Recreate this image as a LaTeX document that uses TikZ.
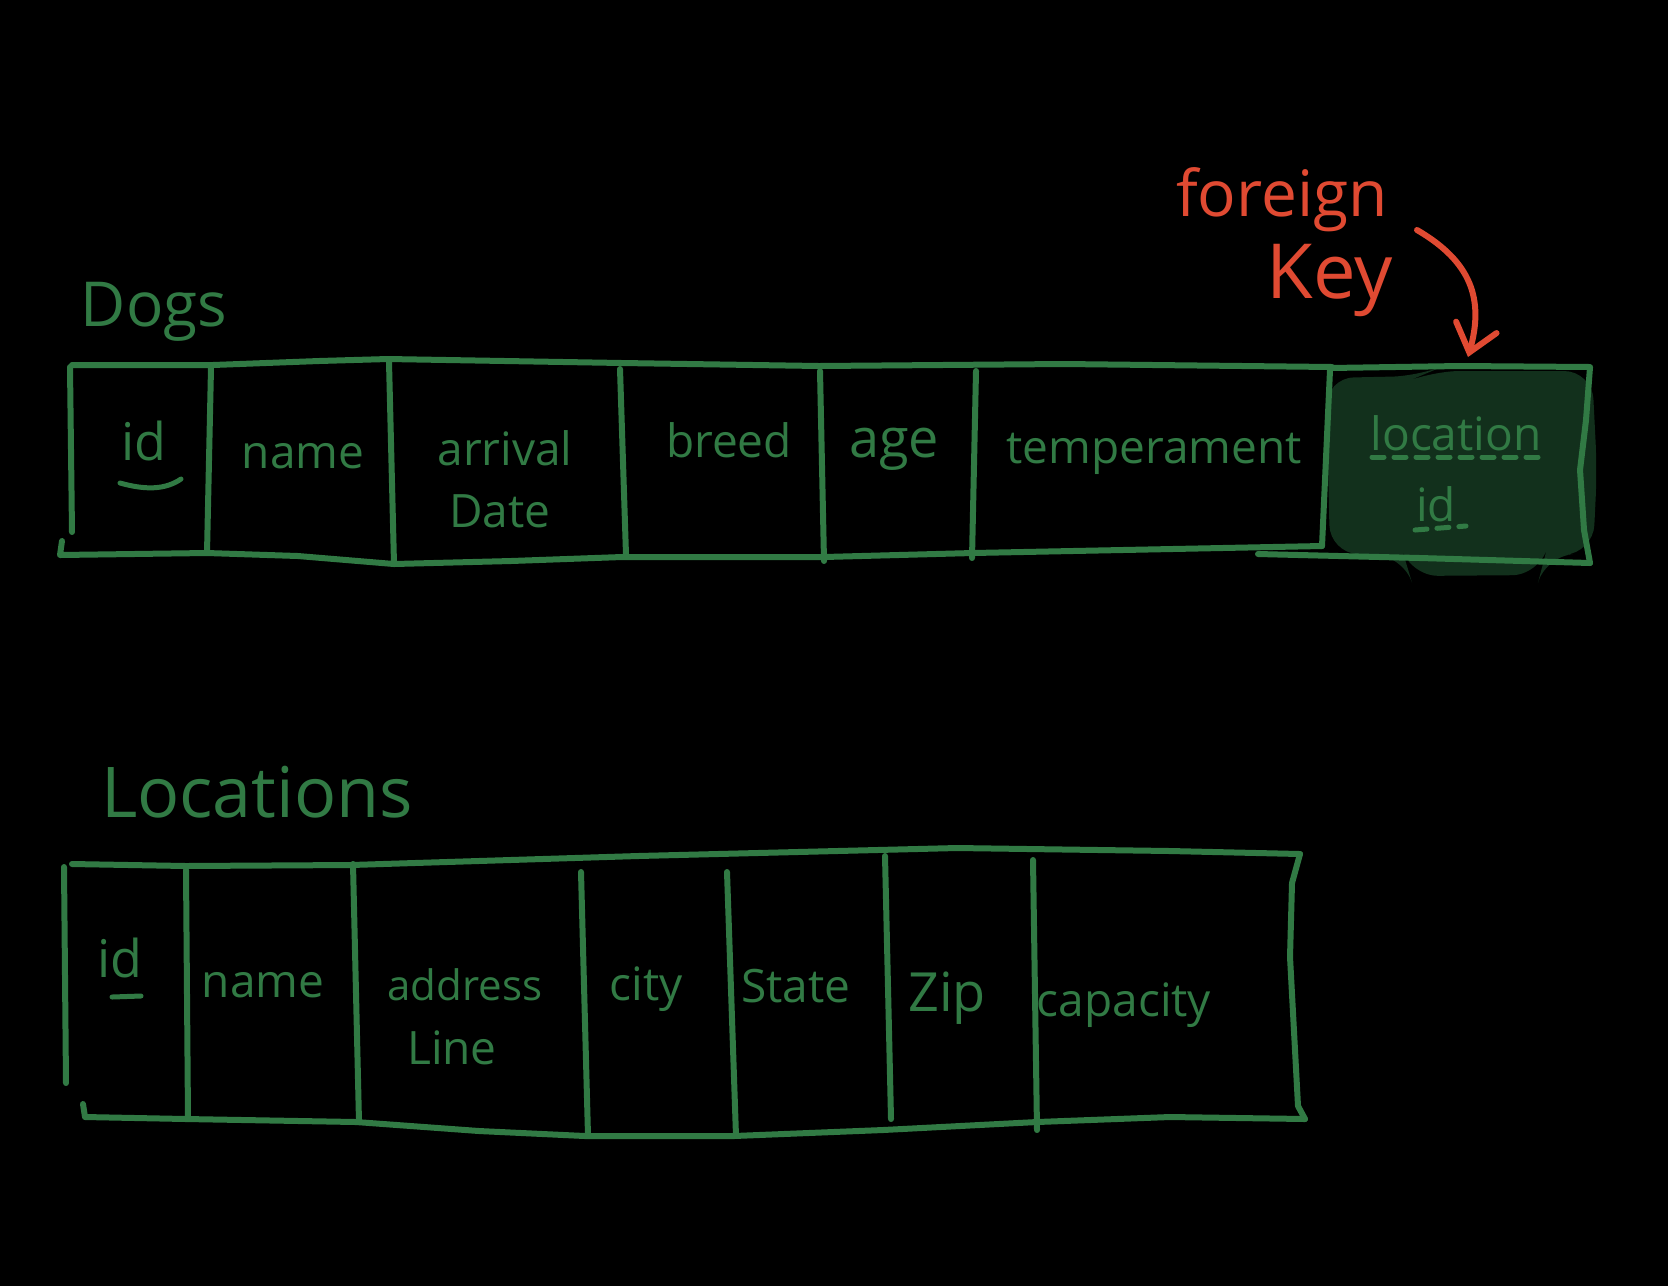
\documentclass[tikz,border=0pt]{standalone}
\usepackage{fontspec}
\setmainfont{Open Sans}
\usetikzlibrary{arrows.meta}
\definecolor{ink}{HTML}{317A44}
\definecolor{redink}{HTML}{E04A32}
\definecolor{cellfill}{HTML}{12301C}
\begin{document}
\begin{tikzpicture}[x=0.5pt,y=-0.5pt,
  edge/.style={draw=ink, line width=3pt, line cap=round, line join=round},
  lbl/.style={text=ink, font=\fontsize{23}{26}\selectfont, anchor=base, inner sep=0pt},
  title/.style={text=ink, font=\fontsize{31}{34}\selectfont, anchor=base, inner sep=0pt},
  note/.style={text=redink, font=\fontsize{32}{36}\selectfont, anchor=base, inner sep=0pt},
  keyline/.style={draw=ink, line width=2.5pt, line cap=round, dash pattern=on 6pt off 5pt},
  pointer/.style={draw=redink, line width=3pt, line cap=round, line join=round,
    -{Straight Barb[length=13pt, width=21pt, line cap=round]}}]
\fill[black] (0,0) rectangle (1668,1286);
\useasboundingbox (0,0) rectangle (1668,1286);

% highlighted foreign-key cell
\fill[cellfill, rounded corners=14pt] (1326,378) -- (1420,376) -- (1432,371) -- (1592,371)
  -- (1597,470) -- (1593,553) -- (1545,556) -- (1540,575) -- (1410,576) -- (1404,556)
  -- (1330,553) -- cycle;

% ---- Dogs table ----
\draw[edge] (72,365) -- (213,365) -- (319,361) -- (388,359) -- (622,363) -- (819,366)
  -- (1064,364) -- (1332,367);
\draw[edge] (70,367) -- (72,532);
\draw[edge] (62,541) -- (60,555) -- (207,553) -- (298,556) -- (394,564) -- (511,561)
  -- (622,557) -- (824,557) -- (973,553) -- (1322,546);
\draw[edge] (211,368) -- (207,553);
\draw[edge] (389,362) -- (394,564);
\draw[edge] (620,369) -- (626,555);
\draw[edge] (820,371) -- (824,561);
\draw[edge] (976,371) -- (972,558);
\draw[edge] (1330,370) -- (1322,546);
\draw[edge] (1330,368) -- (1460,366) -- (1590,367) -- (1586,420) -- (1580,470)
  -- (1584,530) -- (1590,563);
\draw[edge] (1258,554) -- (1420,558) -- (1590,563);

% ---- Locations table ----
\draw[edge] (72,864) -- (186,866) -- (351,865) -- (638,856) -- (957,848) -- (1170,851)
  -- (1300,854);
\draw[edge] (64,867) -- (66,1083);
\draw[edge] (83,1104) -- (85,1117) -- (186,1119) -- (356,1122) -- (479,1131) -- (585,1136)
  -- (734,1136) -- (883,1130) -- (1037,1122) -- (1170,1117) -- (1305,1119);
\draw[edge] (1300,854) -- (1292,883) -- (1290,957) -- (1298,1106) -- (1305,1119);
\draw[edge] (186,870) -- (188,1119);
\draw[edge] (353,864) -- (359,1122);
\draw[edge] (581,872) -- (588,1136);
\draw[edge] (727,872) -- (736,1136);
\draw[edge] (885,856) -- (891,1119);
\draw[edge] (1033,860) -- (1037,1130);

% ---- titles ----
\node[title] (dogs) at (154,326) {Dogs};
\node[title, font=\fontsize{35}{38}\selectfont] (locations) at (257,817) {Locations};

% ---- Dogs columns ----
\node[lbl, font=\fontsize{26}{29}\selectfont] (did) at (144,460) {id};
\draw[edge, line width=2.5pt] (120,483) .. controls (145,490) and (165,490) .. (181,479);
\node[lbl] (dname) at (303,468) {name};
\node[lbl] (darrival) at (505,465) {arrival};
\node[lbl] (ddate) at (500,527) {Date};
\node[lbl] (dbreed) at (729,457) {breed};
\node[lbl, font=\fontsize{27}{30}\selectfont] (dage) at (894,457) {age};
\node[lbl] (dtemp) at (1154,463) {temperament};
\node[lbl] (dloc) at (1456,450) {location};
\draw[keyline] (1372,457) -- (1542,457);
\node[lbl] (dlocid) at (1436,521) {id};
\draw[keyline] (1415,530) -- (1466,526);

% ---- Locations columns ----
\node[lbl, font=\fontsize{26}{29}\selectfont] (lid) at (120,977) {id};
\draw[edge, line width=2.5pt] (112,997) -- (141,996);
\node[lbl] (lname) at (263,997) {name};
\node[lbl, font=\fontsize{21}{24}\selectfont] (laddress) at (465,1000) {address};
\node[lbl] (lline) at (452,1064) {Line};
\node[lbl] (lcity) at (646,1000) {city};
\node[lbl] (lstate) at (796,1002) {State};
\node[lbl, font=\fontsize{27}{30}\selectfont] (lzip) at (947,1011) {Zip};
\node[lbl] (lcap) at (1124,1016) {capacity};

% ---- annotation ----
\node[note] (foreign) at (1282,216) {foreign};
\node[note, font=\fontsize{38}{42}\selectfont] (key) at (1330,298) {Key};
\coordinate (arrowstart) at (1417,230);
\coordinate (arrowtip) at (1468,357);
\draw[pointer] (arrowstart) .. controls (1472,262) and (1484,300) .. (arrowtip);
\end{tikzpicture}
\end{document}
